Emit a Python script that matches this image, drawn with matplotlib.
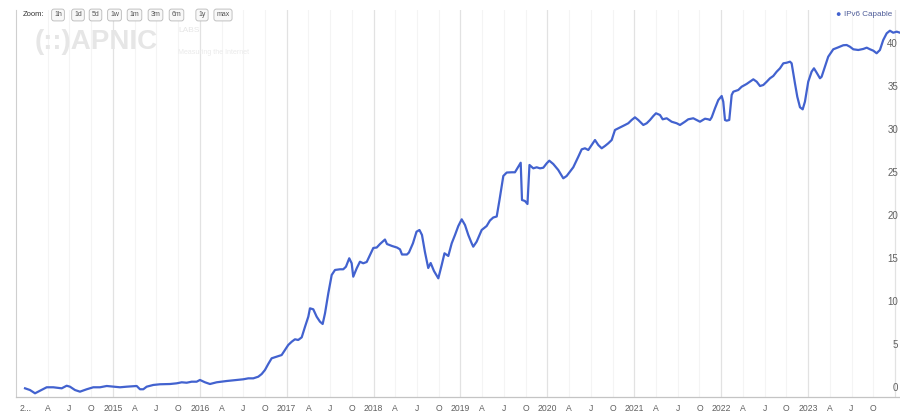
import matplotlib.pyplot as plt

plt.rcParams['font.family'] = ['Liberation Sans', 'DejaVu Sans']

# IPv6 capable share (%); dates as decimal years
dates = [
    2013.989, 2014.046, 2014.104, 2014.161, 2014.238, 2014.314, 2014.411, 2014.468, 2014.506, 2014.564,
    2014.621, 2014.699, 2014.774, 2014.852, 2014.929, 2015.005, 2015.082, 2015.159, 2015.274, 2015.312,
    2015.350, 2015.389, 2015.465, 2015.542, 2015.657, 2015.734, 2015.792, 2015.849, 2015.907, 2015.964,
    2016.002, 2016.060, 2016.117, 2016.194, 2016.310, 2016.425, 2016.501, 2016.558, 2016.616, 2016.673,
    2016.712, 2016.750, 2016.788, 2016.827, 2016.885, 2016.942, 2016.980, 2017.018, 2017.058, 2017.095,
    2017.133, 2017.173, 2017.211, 2017.249, 2017.268, 2017.306, 2017.345, 2017.383, 2017.414, 2017.441,
    2017.479, 2017.518, 2017.556, 2017.613, 2017.651, 2017.682, 2017.720, 2017.748, 2017.766, 2017.806,
    2017.843, 2017.881, 2017.921, 2017.959, 2017.997, 2018.036, 2018.074, 2018.131, 2018.154, 2018.212,
    2018.269, 2018.304, 2018.327, 2018.384, 2018.407, 2018.453, 2018.494, 2018.528, 2018.557, 2018.591,
    2018.629, 2018.657, 2018.695, 2018.745, 2018.784, 2018.816, 2018.860, 2018.899, 2018.937, 2018.975,
    2019.014, 2019.052, 2019.090, 2019.129, 2019.147, 2019.186, 2019.244, 2019.301, 2019.339, 2019.377,
    2019.417, 2019.449, 2019.493, 2019.532, 2019.589, 2019.627, 2019.665, 2019.693, 2019.708, 2019.742,
    2019.771, 2019.794, 2019.838, 2019.877, 2019.915, 2019.953, 2019.992, 2020.022, 2020.068, 2020.125,
    2020.183, 2020.222, 2020.260, 2020.298, 2020.356, 2020.395, 2020.433, 2020.471, 2020.510, 2020.548,
    2020.586, 2020.625, 2020.663, 2020.701, 2020.740, 2020.778, 2020.816, 2020.855, 2020.893, 2020.931,
    2020.970, 2021.008, 2021.046, 2021.104, 2021.143, 2021.181, 2021.219, 2021.250, 2021.296, 2021.327,
    2021.373, 2021.430, 2021.488, 2021.526, 2021.583, 2021.621, 2021.679, 2021.718, 2021.756, 2021.814,
    2021.852, 2021.871, 2021.891, 2021.929, 2021.967, 2022.006, 2022.024, 2022.044, 2022.063, 2022.093,
    2022.121, 2022.140, 2022.197, 2022.236, 2022.293, 2022.331, 2022.370, 2022.409, 2022.447, 2022.485,
    2022.524, 2022.562, 2022.600, 2022.639, 2022.677, 2022.715, 2022.754, 2022.792, 2022.811, 2022.830,
    2022.849, 2022.876, 2022.907, 2022.938, 2022.964, 2023.002, 2023.041, 2023.068, 2023.099, 2023.137,
    2023.156, 2023.194, 2023.232, 2023.290, 2023.348, 2023.405, 2023.444, 2023.482, 2023.521, 2023.578,
    2023.635, 2023.675, 2023.713, 2023.751, 2023.789, 2023.827, 2023.865, 2023.905, 2023.942, 2023.980,
    2024.020, 2024.058,
]
ipv6_capable = [
    1.01, 0.81, 0.43, 0.73, 1.13, 1.13, 1.01, 1.31, 1.20, 0.81,
    0.62, 0.90, 1.13, 1.13, 1.28, 1.20, 1.13, 1.20, 1.28, 0.90,
    0.90, 1.20, 1.40, 1.48, 1.51, 1.59, 1.71, 1.66, 1.78, 1.78,
    1.98, 1.71, 1.51, 1.71, 1.86, 1.98, 2.06, 2.17, 2.17, 2.36,
    2.67, 3.14, 3.84, 4.50, 4.69, 4.88, 5.47, 6.05, 6.43, 6.71,
    6.63, 6.94, 8.17, 9.34, 10.31, 10.20, 9.34, 8.76, 8.49, 9.73,
    12.06, 14.19, 14.77, 14.85, 14.85, 15.15, 16.13, 15.55, 13.99, 14.97,
    15.73, 15.55, 15.70, 16.51, 17.33, 17.38, 17.79, 18.31, 17.79, 17.56,
    17.38, 17.17, 16.57, 16.57, 16.80, 17.87, 19.22, 19.42, 18.84, 16.86,
    15.00, 15.58, 14.65, 13.80, 15.35, 16.71, 16.40, 17.87, 18.84, 19.88,
    20.66, 20.00, 18.84, 17.87, 17.48, 18.06, 19.42, 19.88, 20.52, 20.87,
    20.99, 22.91, 25.70, 26.10, 26.13, 26.13, 26.78, 27.24, 22.91, 22.79,
    22.44, 26.98, 26.59, 26.71, 26.59, 26.66, 27.17, 27.48, 27.09, 26.40,
    25.43, 25.70, 26.20, 26.71, 27.94, 28.80, 28.92, 28.72, 29.30, 29.88,
    29.30, 28.92, 29.19, 29.50, 29.88, 31.05, 31.24, 31.43, 31.63, 31.83,
    32.21, 32.52, 32.21, 31.63, 31.83, 32.21, 32.67, 32.99, 32.79, 32.29,
    32.41, 32.01, 31.83, 31.63, 32.01, 32.29, 32.41, 32.21, 32.01, 32.36,
    32.29, 32.21, 32.52, 33.57, 34.53, 35.00, 34.34, 32.21, 32.13, 32.21,
    35.12, 35.50, 35.70, 36.08, 36.40, 36.66, 36.94, 36.66, 36.16, 36.28,
    36.66, 37.06, 37.33, 37.83, 38.22, 38.80, 38.87, 38.99, 38.80, 37.64,
    36.48, 34.92, 33.69, 33.45, 34.34, 36.66, 37.83, 38.22, 37.71, 37.06,
    37.24, 38.41, 39.57, 40.43, 40.66, 40.90, 40.93, 40.73, 40.43, 40.35,
    40.47, 40.62, 40.43, 40.27, 39.97, 40.35, 41.51, 42.29, 42.59, 42.36,
    42.48, 42.36,
]

years = list(range(2014, 2024))
quarter_letters = ['A', 'J', 'O']
y_labels = [0, 5, 10, 15, 20, 25, 30, 35, 40]
zoom_buttons = ['1h', '1d', '5d', '1w', '1m', '3m', '6m', '1y', 'max']

line_color = '#4262cf'

fig = plt.figure(figsize=(9, 4.18), dpi=100)
ax = fig.add_axes([16 / 900, 21 / 418, 884 / 900, 387 / 418])
ax.set_xlim(2013.885, 2024.058)
ax.set_ylim(0, 45)

# vertical grid: years stronger, quarters very faint
for yr in range(2015, 2025):
    ax.axvline(yr, color='#e2e2e2', lw=0.9, zorder=0)
    for q in (0.25, 0.5, 0.75):
        ax.axvline(yr - 1 + q, color='#f4f4f4', lw=0.8, zorder=0)

ax.plot(dates, ipv6_capable, color=line_color, lw=1.6, solid_joinstyle='round', zorder=3)

for s in ['top', 'right']:
    ax.spines[s].set_visible(False)
ax.spines['left'].set_color('#cfcfcf')
ax.spines['bottom'].set_color('#c4c4c4')
ax.spines['left'].set_linewidth(0.8)
ax.spines['bottom'].set_linewidth(0.9)

# x tick labels: year at January, A/J/O for the other quarters
ticks = []
labels = []
for yr in years:
    ticks.append(yr)
    labels.append(str(yr))
    for i, q in enumerate((0.25, 0.5, 0.75)):
        ticks.append(yr + q)
        labels.append(quarter_letters[i])
labels[0] = '2...'
ax.set_xticks(ticks)
ax.set_xticklabels(labels)
ax.tick_params(axis='x', length=0, pad=5, labelsize=6.2, labelcolor='#606060')
ax.set_yticks([])

# y labels sit inside the right edge, just above their grid value
for v in y_labels:
    ax.text(2024.035, v + 1.05, str(v), ha='right', va='center', fontsize=7,
            color='#606060', clip_on=False)

# faint logo watermark
fig.text(35 / 900, 1 - 42 / 418, '(::)APNIC', fontsize=20, fontweight='bold',
         color='#e6e6e6', va='center', zorder=0)
fig.text(178 / 900, 1 - 31 / 418, 'LABS', fontsize=6, color='#e6e6e6', va='center')
fig.text(178 / 900, 1 - 52 / 418, 'Measuring the Internet', fontsize=5,
         color='#eaeaea', va='center')

# range selector
fig.text(23 / 900, 1 - 15 / 418, 'Zoom:', fontsize=5.5, color='#333333', va='center')
bx = [58, 78, 95.5, 114.5, 134.5, 155.5, 176.5, 202, 223]
for x, b in zip(bx, zoom_buttons):
    fig.text(x / 900, 1 - 15 / 418, b, fontsize=5, color='#555555', ha='center', va='center',
             bbox=dict(boxstyle='round,pad=0.35', fc='#f8f8f8', ec='#b8b8b8', lw=0.6))

# legend
fig.text(838 / 900, 1 - 14 / 418, '\u25cf', fontsize=6.5, color=line_color, ha='center', va='center')
fig.text(844 / 900, 1 - 14 / 418, 'IPv6 Capable', fontsize=5.8, color='#4f5d99', va='center')

fig.savefig('out.png', dpi=100)
